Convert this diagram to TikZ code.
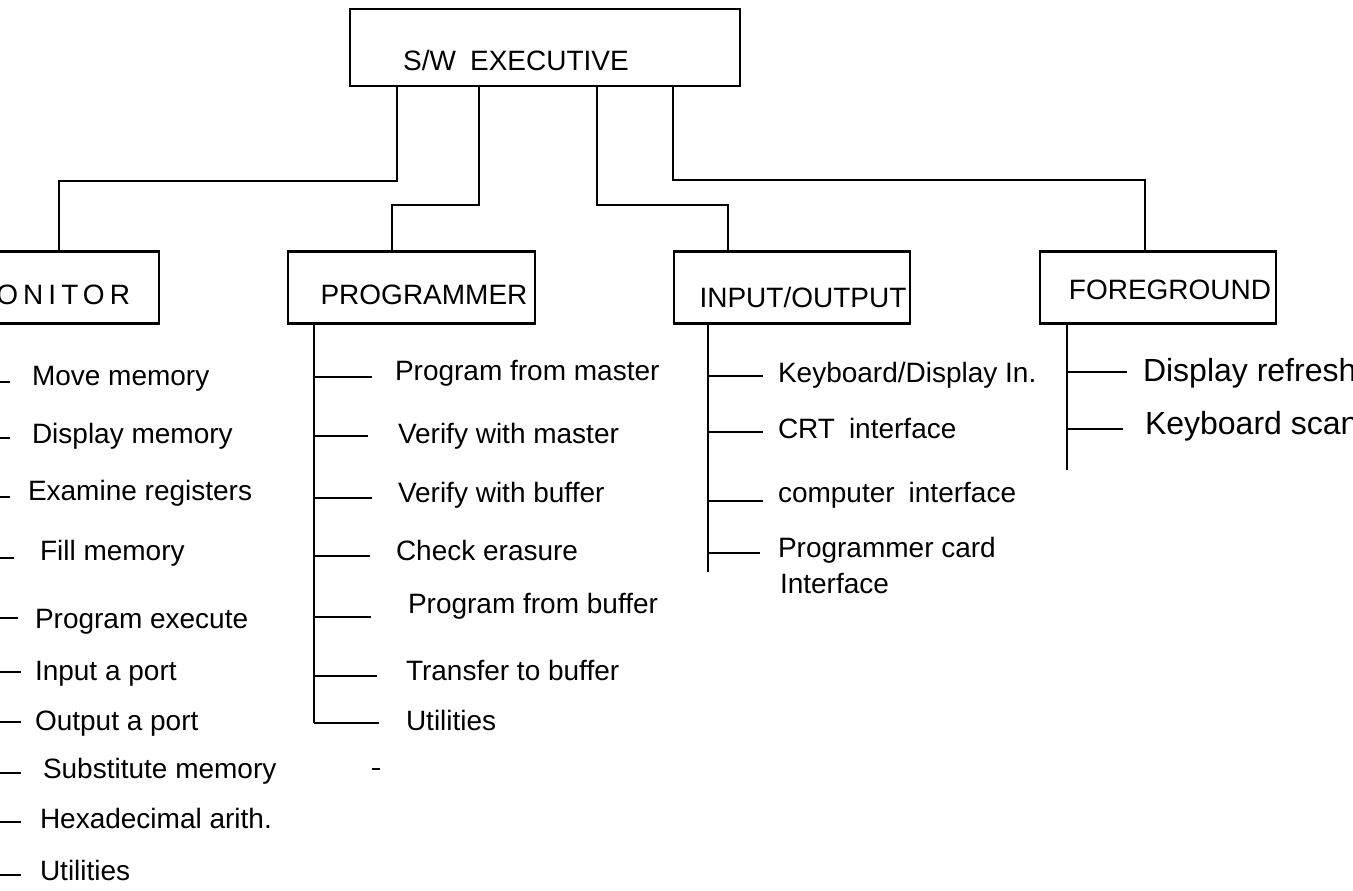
\documentclass[tikz,border=0pt]{standalone}
\usepackage{fontspec}
\setmainfont{Liberation Sans}
\begin{document}
\begin{tikzpicture}[x=1pt,y=-1pt,
  every node/.style={font=\fontsize{28}{36}\selectfont, inner sep=0pt, outer sep=0pt},
  box/.style={draw, line width=2.2pt, minimum height=72pt},
  wire/.style={line width=2pt},
  item/.style={anchor=base west},
  bigitem/.style={anchor=base west, font=\fontsize{32}{38}\selectfont}]
\useasboundingbox (0,0) rectangle (1353,891);
\fill[white] (0,0) rectangle (1353,891);
\clip (0,0) rectangle (1353,891);

% ---------- boxes ----------
\node[box, minimum width=390pt, minimum height=77pt] (exec) at (545,47.5) {};
\node (exect) at (516,60) {S/W\enspace EXECUTIVE};

\node[box, minimum width=239pt] (mon) at (39.5,287.5) {};
\node[anchor=east] (mont) at (130,295) {\addfontfeature{LetterSpace=18}MONITOR};

\node[box, minimum width=247pt] (prog) at (411.5,287.5) {};
\node (progt) at (424,295) {PROGRAMMER};

\node[box, minimum width=236pt] (io) at (792,287.5) {};
\node (iot) at (803,297) {INPUT/OUTPUT};

\node[box, minimum width=236pt] (fg) at (1158,287.5) {};
\node (fgt) at (1170,290) {FOREGROUND};

% ---------- connectors from the executive ----------
\draw[wire] (exec.south -| 397,0) -- (397,181) -| (mon.north -| 59,0);
\draw[wire] (exec.south -| 479,0) -- (479,205) -| (prog.north -| 392,0);
\draw[wire] (exec.south -| 597,0) -- (597,205) -| (io.north -| 728,0);
\draw[wire] (exec.south -| 673,0) -- (673,180) -| (fg.north -| 1145,0);

% ---------- MONITOR list ----------
\coordinate (monend) at (-20,875);
\draw[wire] (mon.south -| -20,0) -- (monend);
\foreach \dy/\by/\tx/\de/\t in {
  382/385/32/10/Move memory,
  438/443/32/10/Display memory,
  497/500/28/10/Examine registers,
  558/560/40/14/Fill memory,
  618/628/35/18/Program execute,
  672/680/35/21/Input a port,
  722/730/35/21/Output a port,
  773/778/43/21/Substitute memory,
  822/828/40/21/Hexadecimal arith.,
  875/880/40/21/Utilities}{
  \draw[wire] (-20,\dy) -- (\de,\dy);
  \node[item] at (\tx,\by) {\t};
}

% ---------- PROGRAMMER list ----------
\coordinate (progend) at (314,723);
\draw[wire] (prog.south -| 314,0) -- (progend);
\foreach \dy/\by/\tx/\de/\t in {
  377/380/395/372/Program from master,
  436/443/398/368/Verify with master,
  498/502/398/372/Verify with buffer,
  556/560/396/370/Check erasure,
  617/613/408/371/Program from buffer,
  676/680/406/377/Transfer to buffer,
  723/730/406/379/Utilities}{
  \draw[wire] (314,\dy) -- (\de,\dy);
  \node[item] at (\tx,\by) {\t};
}
\draw[line width=1.8pt] (372,769) -- (380,769);

% ---------- INPUT/OUTPUT list ----------
\coordinate (ioend) at (708,572);
\draw[wire] (io.south -| 708,0) -- (ioend);
\draw[wire] (708,376) -- (763,376);
\node[item] (io1) at (778,382) {Keyboard/Display In.};
\draw[wire] (708,432) -- (763,432);
\node[item] (io2) at (778,438) {CRT\enspace interface};
\draw[wire] (708,501) -- (763,501);
\node[item] (io3) at (778,502) {computer\enspace interface};
\draw[wire] (708,553) -- (760,553);
\node[item] (io4) at (778,557) {Programmer card};
\node[item] (io4b) at (780,593) {Interface};

% ---------- FOREGROUND list ----------
\coordinate (fgend) at (1067,470);
\draw[wire] (fg.south -| 1067,0) -- (fgend);
\draw[wire] (1067,372) -- (1127,372);
\node[bigitem] (fg1) at (1143,381) {Display refresh};
\draw[wire] (1067,429) -- (1123,429);
\node[bigitem] (fg2) at (1145,434) {Keyboard scan};
\end{tikzpicture}
\end{document}
